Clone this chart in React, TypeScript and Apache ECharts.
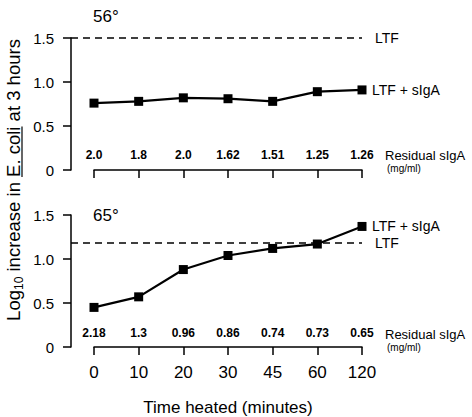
import React, { useEffect, useRef } from "react";
import * as echarts from "echarts";

const categories = ["0", "10", "20", "30", "45", "60", "120"];
const top56 = [0.76, 0.78, 0.82, 0.81, 0.78, 0.89, 0.91];
const bottom65 = [0.45, 0.57, 0.88, 1.04, 1.12, 1.17, 1.37];
const ltf56 = 1.5;
const ltf65 = 1.18;
const residual56 = ["2.0", "1.8", "2.0", "1.62", "1.51", "1.25", "1.26"];
const residual65 = ["2.18", "1.3", "0.96", "0.86", "0.74", "0.73", "0.65"];
const panelTitles = ["56°", "65°"];

const FONT = "Liberation Sans, Arial, Helvetica, sans-serif";

function measure(text: string, size: number) {
  const c = document.createElement("canvas").getContext("2d");
  if (!c) return text.length * size * 0.5;
  c.font = `${size}px "Liberation Sans"`;
  return c.measureText(text).width;
}

export default function App() {
  const ref = useRef<HTMLDivElement>(null);
  useEffect(() => {
    if (!ref.current) return;
    const chart = echarts.init(ref.current, null, { renderer: "svg" });
    const grids = [
      { left: 94, width: 268, top: 38, height: 132 },
      { left: 94, width: 268, top: 215, height: 132 },
    ];
    const axisLine = { show: true, lineStyle: { color: "#000", width: 1.5 } };
    const yAxis = [0, 1].map((i) => ({
      type: "value",
      gridIndex: i,
      min: 0,
      max: 1.5,
      interval: 0.5,
      offset: 23,
      splitLine: { show: false },
      axisLine,
      axisTick: { show: true, length: 8, lineStyle: { color: "#000", width: 1.5 } },
      axisLabel: {
        color: "#000",
        fontSize: 15,
        fontFamily: FONT,
        margin: 17,
        formatter: (v: number) => (v === 0 ? "0" : v.toFixed(1)),
      },
    }));
    const mainX = (i: number, showLabels: boolean) => ({
      type: "category",
      gridIndex: i,
      data: categories,
      boundaryGap: false,
      offset: 2,
      axisLine,
      axisTick: { show: true, length: 8, lineStyle: { color: "#000", width: 1.5 } },
      axisLabel: {
        show: showLabels,
        color: "#000",
        fontSize: 17,
        fontFamily: FONT,
        margin: 15,
      },
    });
    const residX = (i: number, data: string[], margin: number) => ({
      type: "category",
      gridIndex: i,
      data,
      boundaryGap: false,
      position: "bottom",
      axisLine: { show: false },
      axisTick: { show: false },
      axisLabel: {
        inside: true,
        color: "#000",
        fontSize: 12,
        fontWeight: "bold",
        fontFamily: FONT,
        margin,
        interval: 0,
      },
    });
    const lineSeries = (i: number, data: number[], ltf: number) => ({
      type: "line",
      name: "LTF + sIgA",
      xAxisIndex: i * 2,
      yAxisIndex: i,
      data,
      symbol: "rect",
      symbolSize: 9,
      itemStyle: { color: "#000" },
      lineStyle: { color: "#000", width: 2.2 },
      z: 5,
      endLabel: {
        show: true,
        formatter: "LTF + sIgA",
        color: "#000",
        fontSize: 14,
        fontFamily: FONT,
        distance: 10,
      },
      markLine: {
        silent: true,
        symbol: "none",
        lineStyle: { color: "#000", type: [7, 5], width: 1.5 },
        label: {
          show: true,
          position: "end",
          formatter: "LTF",
          color: "#000",
          fontSize: 14,
          fontFamily: FONT,
          distance: 13,
        },
        data: [[{ yAxis: ltf, x: 71 }, { yAxis: ltf, xAxis: categories[categories.length - 1] }]],
      },
    });
    const textStyle = { fill: "#000", fontFamily: FONT };

    // y-axis title layout (rotated, reads bottom to top)
    const tSize = 18.5;
    const sSize = 12;
    const parts = ["Log", "10", " increase in ", "E. coli", " at 3 hours"];
    const w = parts.map((p, k) => measure(p, k === 1 ? sSize : tSize));
    const total = w.reduce((a, b) => a + b, 0);
    const cy = 180;
    const bottomY = cy + total / 2;
    const ulStart = bottomY - (w[0] + w[1] + w[2]);
    const ulEnd = ulStart - w[3];

    chart.setOption({
      animation: false,
      backgroundColor: "#fff",
      grid: grids,
      xAxis: [
        mainX(0, false),
        residX(0, residual56, 9),
        mainX(1, true),
        residX(1, residual65, 8),
      ],
      yAxis,
      series: [lineSeries(0, top56, ltf56), lineSeries(1, bottom65, ltf65)],
      graphic: [
        { type: "text", left: 93, top: 8, style: { ...textStyle, text: panelTitles[0], fontSize: 17 } },
        { type: "text", left: 93, top: 207, style: { ...textStyle, text: panelTitles[1], fontSize: 17 } },
        { type: "text", x: 385, y: 155, style: { ...textStyle, text: "Residual sIgA", fontSize: 13, verticalAlign: "middle" } },
        { type: "text", x: 387, y: 168, style: { ...textStyle, text: "(mg/ml)", fontSize: 10, verticalAlign: "middle" } },
        { type: "text", x: 385, y: 334, style: { ...textStyle, text: "Residual sIgA", fontSize: 13, verticalAlign: "middle" } },
        { type: "text", x: 387, y: 347, style: { ...textStyle, text: "(mg/ml)", fontSize: 10, verticalAlign: "middle" } },
        {
          type: "text",
          x: 228,
          y: 407,
          style: { ...textStyle, text: "Time heated (minutes)", fontSize: 17, align: "center", verticalAlign: "middle" },
        },
        {
          type: "text",
          x: 13,
          y: cy,
          rotation: Math.PI / 2,
          style: {
            ...textStyle,
            text: "{a|Log}{s|10}{a| increase in E. coli at 3 hours}",
            align: "center",
            verticalAlign: "middle",
            rich: {
              a: { fontSize: tSize, fontFamily: FONT, lineHeight: 24 },
              s: { fontSize: sSize, fontFamily: FONT, lineHeight: 24, verticalAlign: "bottom" },
            },
          },
        },
        { type: "line", shape: { x1: 22, y1: ulStart, x2: 22, y2: ulEnd }, style: { stroke: "#000", lineWidth: 1.2 } },
      ],
    });
    return () => chart.dispose();
  }, []);
  return <div ref={ref} style={{ width: 472, height: 417, position: "absolute", left: 0, top: 0 }} />;
}
